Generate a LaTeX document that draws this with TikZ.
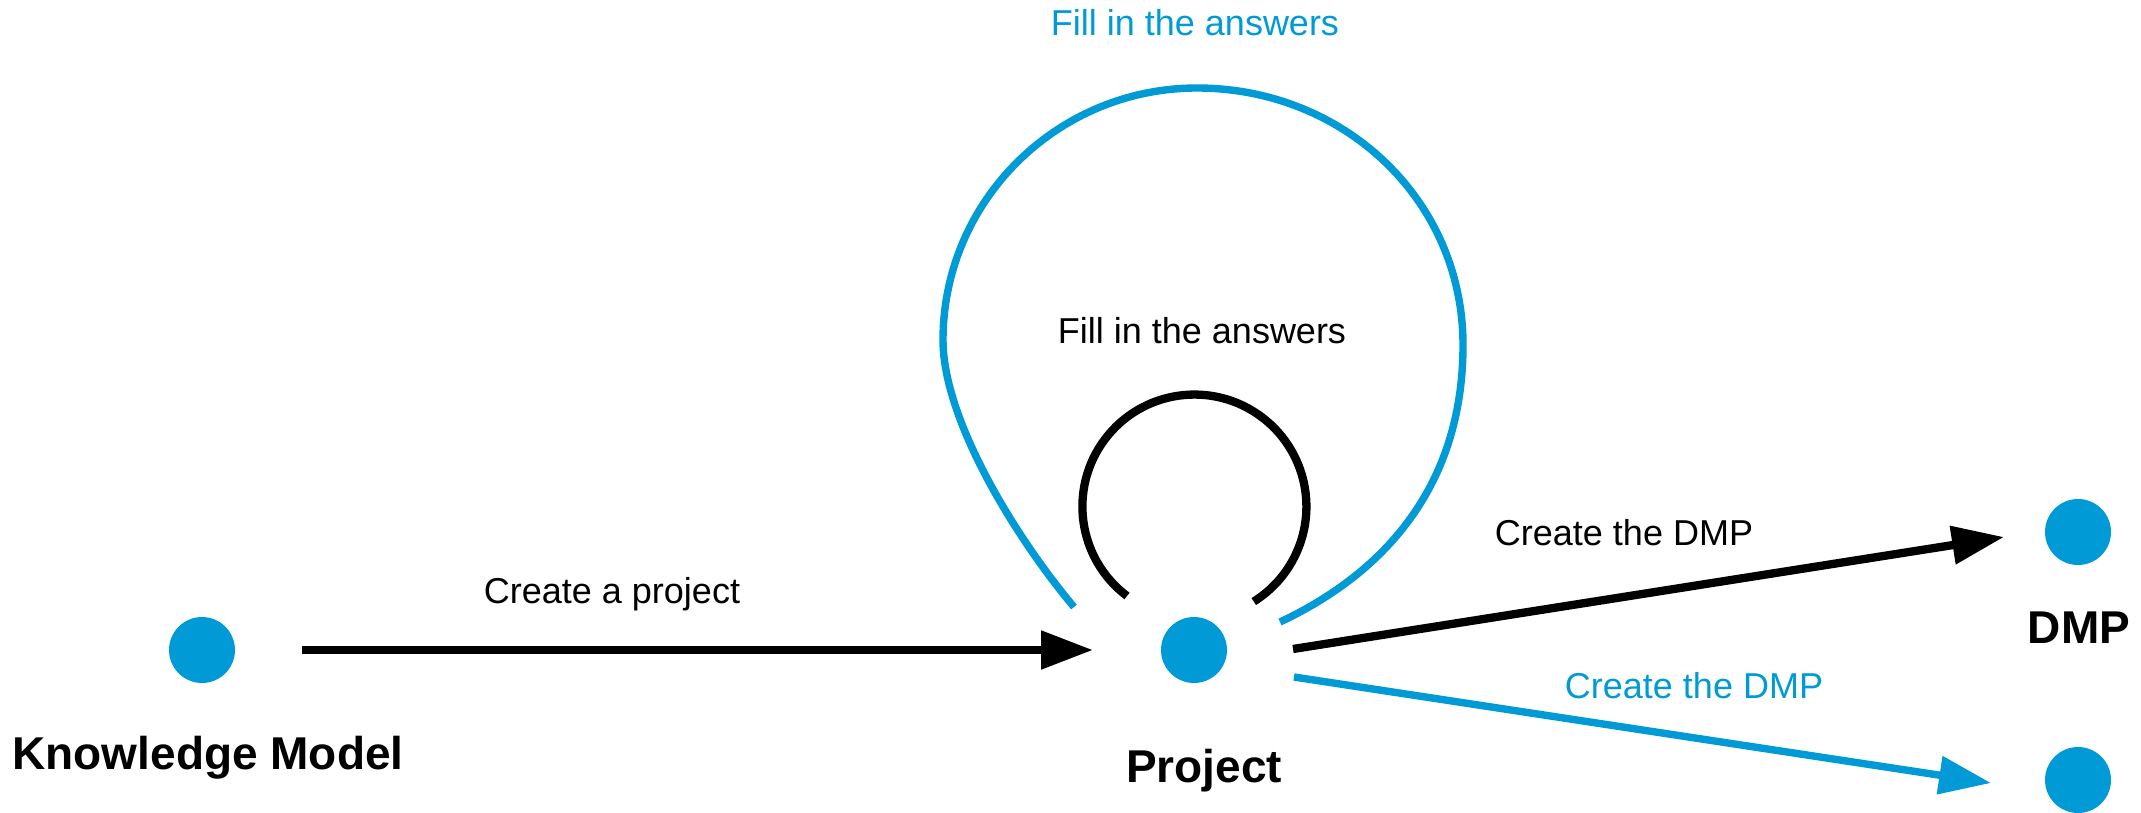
\documentclass[tikz,border=0pt]{standalone}
\usepackage{fontspec}
\setmainfont{Liberation Sans}
\usetikzlibrary{arrows.meta}
\definecolor{dsblue}{RGB}{0,155,214}
\tikzset{
  dot/.style={circle, fill=dsblue, inner sep=0pt, minimum size=33pt},
  lbl/.style={anchor=base, inner sep=0pt, font=\fontsize{18}{22}\selectfont},
  title/.style={anchor=base, inner sep=0pt, font=\fontsize{23}{28}\selectfont\bfseries},
  blk/.style={draw=black, line width=4.15pt},
  blu/.style={draw=dsblue, line width=3.7pt},
  tip/.style={-{Triangle[length=26pt, width=18.5pt]}}
}
\begin{document}
\begin{tikzpicture}[x=0.5pt, y=0.5pt]
\useasboundingbox (0,0) rectangle (2141,-813);
% dots
\node[dot] (KM) at (202,-650) {};
\node[dot] (P)  at (1194,-650) {};
\node[dot] (D1) at (2078,-532) {};
\node[dot] (D2) at (2078,-780) {};
% titles
\node[title] (tKM) at (208,-769) {Knowledge Model};
\node[title] (tP)  at (1204,-782) {Project};
\node[title] (tD)  at (2079,-643) {DMP};
% labels
\node[lbl] (l1) at (612,-603) {Create a project};
\node[lbl] (l2) at (1624,-545) {Create the DMP};
\node[lbl, text=dsblue] (l3) at (1694,-698) {Create the DMP};
\node[lbl] (l4) at (1202,-343) {Fill in the answers};
\node[lbl, text=dsblue] (l5) at (1195,-36) {Fill in the answers};
% connectors
\draw[blk, tip] ([shift={(100,0)}]KM.center) -- ([shift={(-101,0)}]P.center);
\draw[blk, tip] ([shift={(99,1)}]P.center) -- ([shift={(-74,-5)}]D1.center);
\draw[blu, tip] ([shift={(100,-27)}]P.center) -- ([shift={(-87,-3)}]D2.center);
% black self loop
\draw[blk] ([shift={(-67,54)}]P.center) arc[start angle=233, end angle=-58, radius=112];
% blue self loop
\draw[blu] ([shift={(-120,43)}]P.center)
  .. controls (1016,-538) and (943,-420) .. (943,-340)
  .. controls (943,-201) and (1057,-88) .. (1197,-88)
  .. controls (1344,-88) and (1463,-200) .. (1463,-345)
  .. controls (1463,-490) and (1380,-575) .. ([shift={(86,28)}]P.center);
\end{tikzpicture}
\end{document}
